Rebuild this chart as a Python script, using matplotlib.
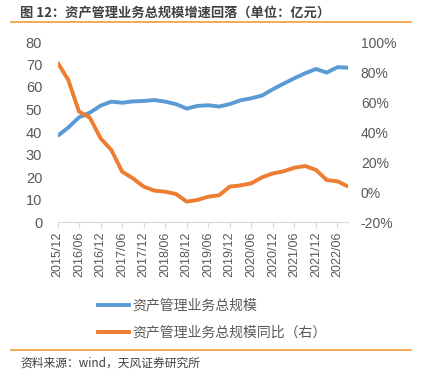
import matplotlib
matplotlib.use("Agg")
from matplotlib import pyplot as plt
from matplotlib.lines import Line2D

# quarterly, 2015/12 .. 2022/09
quarters = ["2015/12", "2016/03", "2016/06", "2016/09", "2016/12", "2017/03", "2017/06",
            "2017/09", "2017/12", "2018/03", "2018/06", "2018/09", "2018/12", "2019/03",
            "2019/06", "2019/09", "2019/12", "2020/03", "2020/06", "2020/09", "2020/12",
            "2021/03", "2021/06", "2021/09", "2021/12", "2022/03", "2022/06", "2022/09"]
total_scale = [38.2, 42.0, 46.5, 48.6, 51.7, 53.5, 53.0, 53.6, 53.8, 54.2, 53.5, 52.4, 50.4, 51.6,
               51.9, 51.3, 52.4, 54.1, 55.0, 56.2, 59.0, 61.5, 63.9, 66.1, 68.0, 66.4, 68.8, 68.6]
yoy_pct = [86.4, 74.7, 53.6, 49.6, 35.8, 28.0, 13.6, 9.1, 3.6, 0.9, 0.2, -1.3, -6.4, -5.3,
           -3.1, -2.2, 3.6, 4.4, 5.8, 9.8, 12.4, 13.8, 16.2, 17.3, 14.7, 8.0, 7.1, 3.6]
tick_idx = list(range(0, 28, 2))
tick_labels = [quarters[i] for i in tick_idx]

BLUE = "#5B9BD5"
ORANGE = "#ED7D31"
RULE = "#F39A3B"
GREY = "#595959"
CJK = ["Noto Sans CJK SC", "DejaVu Sans"]
NUM = ["Liberation Sans", "DejaVu Sans"]

fig = plt.figure(figsize=(4.28, 3.79), dpi=100)
ax = fig.add_axes([57.5 / 428, 1 - 222 / 379, (348.25 - 57.5) / 428, 180 / 379])
ax2 = ax.twinx()

x = list(range(len(quarters)))
ax.plot(x, total_scale, color=BLUE, lw=2.8, solid_capstyle="butt", solid_joinstyle="round")
ax2.plot(x, yoy_pct, color=ORANGE, lw=2.8, solid_capstyle="butt", solid_joinstyle="round")

ax.set_xlim(0, 27)
ax.set_ylim(0, 80)
ax.set_yticks(range(0, 81, 10))
ax2.set_ylim(-20, 100)
ax2.set_yticks(range(-20, 101, 20))
ax2.set_yticklabels([f"{v}%" for v in range(-20, 101, 20)])

ax.set_xticks(tick_idx)
ax.set_xticklabels(tick_labels, rotation=90, family=NUM, fontsize=9, color=GREY)
for a in (ax, ax2):
    for s in a.spines.values():
        s.set_visible(False)
ax.spines["bottom"].set_visible(True)
ax.spines["bottom"].set_color("#D9D9D9")
ax.tick_params(axis="x", length=4, color="#D9D9D9", pad=3)
ax.tick_params(axis="y", length=0, pad=11, labelsize=10.5, labelcolor=GREY)
ax2.tick_params(axis="y", length=0, pad=9, labelsize=10, labelcolor=GREY)
for lab in ax.get_yticklabels() + ax2.get_yticklabels():
    lab.set_family(NUM)

handles = [Line2D([], [], color=BLUE, lw=2.8), Line2D([], [], color=ORANGE, lw=2.8)]
leg = fig.legend(handles, ["资产管理业务总规模", "资产管理业务总规模同比（右）"],
                 loc="upper left", bbox_to_anchor=(85 / 428, 1 - 286 / 379), frameon=False,
                 handlelength=2.3, handletextpad=0.2, labelspacing=0.95,
                 prop={"family": CJK, "size": 10})
for t in leg.get_texts():
    t.set_color(GREY)

fig.text(20 / 428, 1 - 12 / 379, "图 12：资产管理业务总规模增速回落（单位：亿元）",
         family=CJK, fontsize=9.5, fontweight="bold", color="#404040", va="center")
fig.add_artist(Line2D([11 / 428, 411 / 428], [1 - 22 / 379, 1 - 22 / 379], color=RULE, lw=1.2))
fig.add_artist(Line2D([11 / 428, 411 / 428], [1 - 350 / 379, 1 - 350 / 379], color=RULE, lw=1.2))
fig.text(20 / 428, 1 - 363 / 379, "资料来源：wind，天风证券研究所",
         family=CJK, fontsize=8.5, color="#404040", va="center")

fig.savefig("out.png", dpi=100)
